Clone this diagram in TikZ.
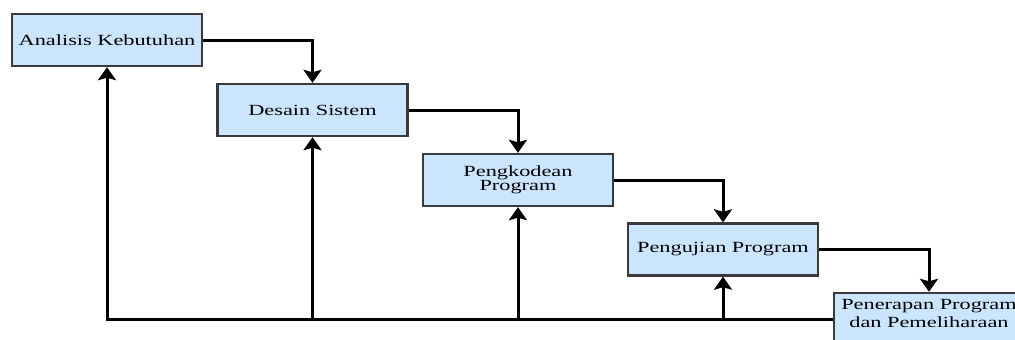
\documentclass[tikz,border=0pt]{standalone}
\usepackage{fontspec}
\setmainfont{Liberation Serif}[FakeStretch=1.44]
\usetikzlibrary{arrows.meta}
\definecolor{boxfill}{HTML}{CCE5FF}
\definecolor{boxdraw}{HTML}{3A3A3A}
\tikzset{
  stepbox/.style={draw=boxdraw, line width=2.4pt, fill=boxfill, rectangle,
    minimum width=190pt, minimum height=52pt, inner sep=0pt, align=center,
    font=\fontsize{15.5}{14}\selectfont},
  flow/.style={line width=3pt, -{Stealth[width=18pt,length=13pt,inset=2.5pt]}},
}
\begin{document}
\begin{tikzpicture}[x=1pt,y=-1pt]
\useasboundingbox (0,0) rectangle (1015,340);
\node[stepbox] (b1) at (107,40) {Analisis Kebutuhan};
\node[stepbox] (b2) at (312.5,110) {Desain Sistem};
\node[stepbox] (b3) at (518,180) {Pengkodean\\Program};
\node[stepbox] (b4) at (723,249.5) {Pengujian Program};
\node[stepbox, font=\fontsize{15.5}{18}\selectfont] (b5) at (929,319) {Penerapan Program\\dan Pemeliharaan\\[-6pt]\mbox{}};
\draw[flow] (b1.east) -| (b2.north);
\draw[flow] (b2.east) -| (b3.north);
\draw[flow] (b3.east) -| (b4.north);
\draw[flow] (b4.east) -| (b5.north);
\draw[flow] (b5.west) -| (b1.south);
\draw[flow] (b2.south |- b5.west) -- (b2.south);
\draw[flow] (b3.south |- b5.west) -- (b3.south);
\draw[flow] (b4.south |- b5.west) -- (b4.south);
\end{tikzpicture}
\end{document}
